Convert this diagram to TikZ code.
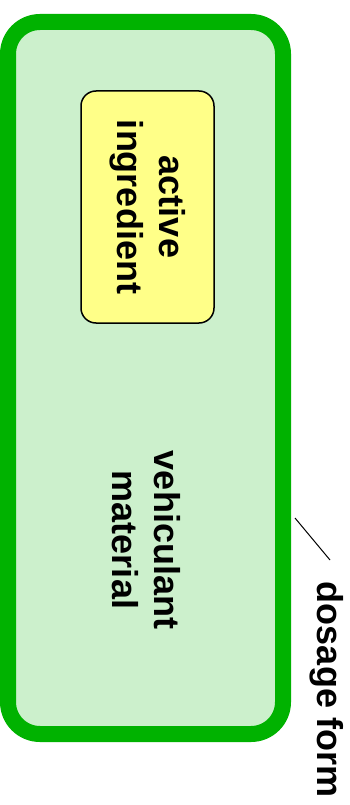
\documentclass[tikz,border=0pt]{standalone}
\usepackage{fontspec}
\setmainfont{Liberation Sans}

\definecolor{formgreen}{RGB}{0,178,0}
\definecolor{formfill}{RGB}{204,240,204}
\definecolor{activefill}{RGB}{255,255,136}

\tikzset{
  boxtext/.style={rotate=-90, align=center, font=\fontsize{36}{42}\selectfont\bfseries},
  formbox/.style={draw=formgreen, fill=formfill, line width=16pt, rounded corners=32pt},
  activebox/.style={boxtext, draw=black, fill=activefill, line width=1.5pt, rounded corners=15pt}
}

\begin{document}
\begin{tikzpicture}[x=1pt, y=-1pt]

  \useasboundingbox (0,0) rectangle (350,805);

  % Outer dosage form
  \node[formbox, minimum width=275pt, minimum height=712pt] (form) at (145.5,378) {};

  % Active ingredient box
  \node[activebox, minimum width=232pt, minimum height=133pt] (active) at (147.5,207)
    {active\\ingredient};

  % Vehicle
  \node[boxtext] (vehicle) at (146,540) {vehiculant\\material};

  % Label with leader line
  \node[boxtext] (dosage) at (327,690) {dosage form};
  \coordinate (lead a) at (295,518);
  \coordinate (lead b) at (330,560);
  \draw[line width=1pt] (lead a) -- (lead b);

\end{tikzpicture}
\end{document}
